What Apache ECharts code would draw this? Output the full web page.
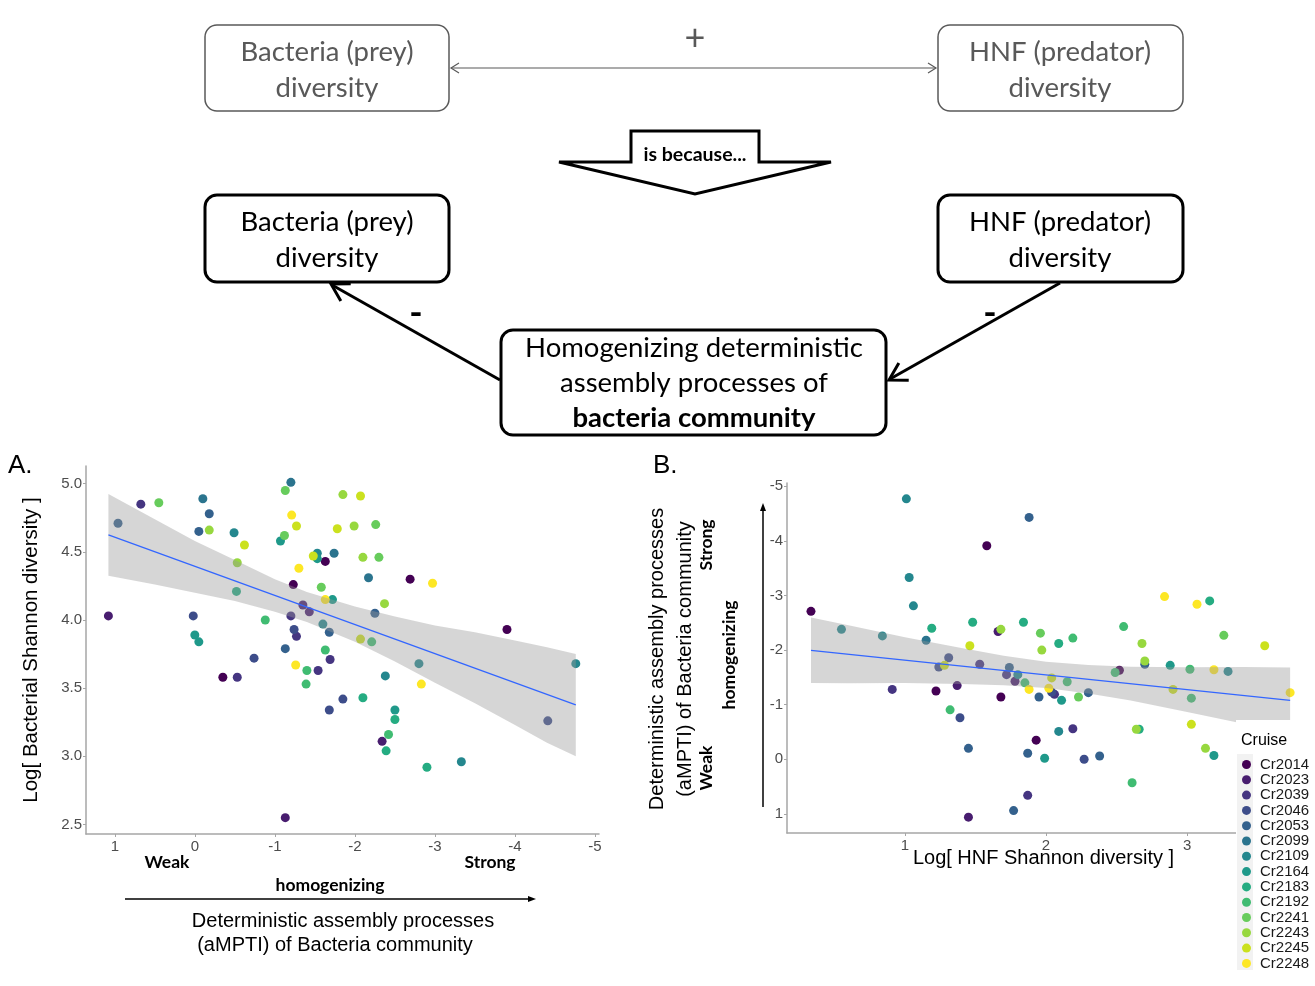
<!DOCTYPE html>
<html><head><meta charset="utf-8">
<script src="https://cdn.jsdelivr.net/npm/echarts@6/dist/echarts.min.js"></script>
<style>html,body{margin:0;padding:0;background:#fff}#c{width:1315px;height:986px}</style>
</head><body><div id="c"></div>
<script>
const cruises = ['Cr2014','Cr2023','Cr2039','Cr2046','Cr2053','Cr2099','Cr2109','Cr2164','Cr2183','Cr2192','Cr2241','Cr2243','Cr2245','Cr2248'];
const cruiseColors = ['#440154','#481D6F','#453581','#3D4D8A','#34618D','#2B748E','#24878E','#1F998A','#25AC82','#40BC72','#67CC5C','#97D83F','#CBE11E','#FDE725'];

// Panel A: x = aMPTI, y = log bacterial Shannon diversity, c = cruise index
const aX = [0.96,0.675,0.45,1.08,-0.10,-0.18,-0.05,-0.18,-0.49,-0.62,-0.53,-0.52,0.02,0.00,-0.05,-0.88,-0.74,-0.35,-0.53,-1.20,
  -1.13,-1.21,-1.27,-1.12,-1.07,-1.30,-1.23,-1.20,-1.35,-1.43,-1.24,-1.27,-1.13,-1.26,-1.40,-1.54,-1.39,-1.48,-1.53,-1.53,
  -1.63,-1.58,-1.63,-1.72,-1.60,-1.68,-1.63,-1.69,-1.85,-2.07,-1.78,-1.99,-2.26,-1.74,-2.10,-2.30,-2.17,-2.69,-2.97,-2.37,
  -2.25,-2.07,-2.21,-2.80,-2.38,-2.83,-2.10,-1.85,-1.68,-2.50,-2.50,-2.42,-2.34,-2.39,-2.90,-3.33,-1.13,-3.90,-4.76,-4.41];
const aY = [4.71,4.85,4.86,4.03,4.89,4.78,4.65,4.66,4.64,4.55,4.42,4.21,4.03,3.89,3.84,4.00,3.72,3.58,3.58,5.01,
  4.95,4.77,4.69,4.62,4.58,4.38,4.26,4.03,4.11,4.06,3.93,3.88,3.79,3.67,3.63,3.63,3.53,4.47,4.49,4.45,
  4.43,4.24,4.15,4.15,3.97,3.91,3.78,3.71,4.92,4.91,4.67,4.69,4.70,4.49,4.46,4.46,4.31,4.30,4.27,4.12,
  4.05,3.86,3.84,3.68,3.59,3.53,3.43,3.42,3.34,3.34,3.27,3.16,3.11,3.04,2.92,2.96,2.55,3.93,3.68,3.26];
const aC = [4,2,10,1,5,4,4,11,6,12,11,8,3,7,7,9,3,0,2,5,
  10,13,12,10,7,13,0,2,1,1,3,2,4,13,9,2,9,12,6,7,
  0,10,13,7,6,4,9,2,11,12,12,11,10,5,11,10,5,0,13,11,
  4,12,9,6,6,13,8,3,3,7,8,9,1,8,8,6,1,0,6,3];

// Panel B: x = log HNF Shannon diversity, y = aMPTI, c = cruise index
const bX = [0.334,0.55,0.84,1.01,1.03,1.06,1.19,1.15,1.46,1.48,1.31,1.24,1.28,1.53,0.91,1.22,1.37,1.32,1.39,1.45,
  1.66,1.68,1.84,1.96,1.97,2.09,2.19,1.74,1.72,1.78,1.80,1.85,1.88,2.02,2.04,1.95,2.04,2.06,2.11,2.15,
  2.23,1.68,1.93,2.09,2.19,1.87,1.99,2.27,2.38,1.87,1.77,1.45,2.61,2.64,2.66,2.90,3.03,3.03,3.13,3.19,
  1.88,1.58,2.84,3.07,3.16,2.55,2.68,2.70,2.70,2.52,2.49,2.88,3.02,3.19,3.29,3.26,3.55,3.73,2.30];
const bY = [-2.71,-2.38,-2.26,-4.77,-3.33,-2.81,-2.40,-2.18,-2.08,-2.51,-1.86,-1.69,-1.72,-1.74,-1.28,-1.25,-1.35,-0.905,-0.76,-0.20,
  -2.34,-2.38,-2.51,-2.31,-2.00,-2.12,-2.22,-1.68,-1.55,-1.43,-1.55,-1.40,-1.28,-1.30,-1.49,-1.14,-1.23,-1.19,-1.08,-1.42,
  -1.14,-1.14,-0.35,-0.51,-0.56,-0.11,-0.02,0.00,-0.06,0.66,0.94,1.06,0.43,-0.55,-0.55,-1.28,-1.12,-0.64,-0.20,-0.07,
  -4.43,-3.91,-2.98,-2.84,-2.90,-2.43,-2.12,-1.80,-1.74,-1.63,-1.59,-1.72,-1.65,-1.64,-1.61,-2.27,-2.08,-1.22,-1.22];
const bC = [0,6,6,6,6,6,8,5,12,8,3,3,12,2,2,0,1,9,3,4,
  1,11,8,10,11,8,9,4,2,1,6,9,13,13,12,4,3,2,7,9,
  10,0,0,6,2,4,7,3,4,2,4,1,9,11,8,12,9,12,11,7,
  4,0,13,13,8,9,11,11,4,0,9,7,9,13,6,10,12,13,4];

// Fitted lines and 95% bands
const aLineX = [1.08,-4.76], aLineY = [4.625,3.377];
const aBandX = [1.08,0.5,0,-0.5,-1,-1.4,-2,-2.5,-3,-3.5,-4,-4.4,-4.76];
const aBandLow = [4.325,4.26,4.20,4.14,4.06,3.985,3.84,3.695,3.54,3.39,3.23,3.10,3.00];
const aBandHigh = [4.925,4.74,4.58,4.44,4.30,4.205,4.10,4.025,3.96,3.91,3.85,3.80,3.75];
const bLineX = [0.334,3.73], bLineY = [-1.995,-1.08];
const bBandX = [0.334,0.6,1.0,1.4,1.7,2.0,2.3,2.6,3.0,3.4,3.73];
const bBandLow = [-2.595,-2.453,-2.236,-2.038,-1.897,-1.786,-1.725,-1.695,-1.687,-1.689,-1.68];
const bBandHigh = [-1.395,-1.393,-1.396,-1.378,-1.357,-1.306,-1.205,-1.075,-0.867,-0.649,-0.48];

const aTicksX = [1,0,-1,-2,-3,-4,-5];
const aTicksY = [2.5,3.0,3.5,4.0,4.5,5.0];
const bTicksX = [1,2,3];
const bTicksY = [-5,-4,-3,-2,-1,0,1];

const chart = echarts.init(document.getElementById('c'), null, {renderer:'canvas'});
const ARIAL = 'Liberation Sans';
const DIAG = 'Lato';
const tickLabel = {fontFamily: ARIAL, fontSize: 15, color: '#4d4d4d'};
const axLine = {show:true, onZero:false, lineStyle:{color:'#a6a6a6', width:1.5}};

function axisX(idx, min, max, ticks, inverse, extra) {
  return Object.assign({type:'value', gridIndex: idx, min, max, inverse: !!inverse,
    axisLine: axLine, splitLine:{show:false},
    axisTick:{show:true, length:3, lineStyle:{color:'#a6a6a6'}, customValues: ticks},
    axisLabel: Object.assign({customValues: ticks, margin:5}, tickLabel)}, extra||{});
}
function axisY(idx, min, max, ticks, inverse, fmt, extra) {
  return Object.assign({type:'value', gridIndex: idx, min, max, inverse: !!inverse,
    axisLine: axLine, splitLine:{show:false},
    axisTick:{show:true, length:3, lineStyle:{color:'#a6a6a6'}, customValues: ticks},
    axisLabel: Object.assign({customValues: ticks, margin:4, formatter: fmt}, tickLabel)}, extra||{});
}

const series = [];
function scatterFor(X, Y, C, gi) {
  cruises.forEach((name, ci) => {
    const d = [];
    for (let i = 0; i < X.length; i++) if (C[i] === ci) d.push([X[i], Y[i]]);
    series.push({type:'scatter', name, xAxisIndex: gi, yAxisIndex: gi, data: d,
      symbolSize: 9, itemStyle:{color: cruiseColors[ci], opacity:1}, z:2, silent:true});
  });
}
scatterFor(aX, aY, aC, 0);
scatterFor(bX, bY, bC, 1);

function bandSeries(BX, LO, HI, gi) {
  return {type:'custom', xAxisIndex: gi, yAxisIndex: gi, z:3, silent:true,
    data: [[BX[0], LO[0]]],
    renderItem: function(params, api) {
      const pts = [];
      for (let i = 0; i < BX.length; i++) pts.push(api.coord([BX[i], HI[i]]));
      for (let i = BX.length - 1; i >= 0; i--) pts.push(api.coord([BX[i], LO[i]]));
      return {type:'polygon', shape:{points: pts}, style:{fill:'rgba(153,153,153,0.4)', stroke:null}};
    }};
}
series.push(bandSeries(aBandX, aBandLow, aBandHigh, 0));
series.push(bandSeries(bBandX, bBandLow, bBandHigh, 1));
series.push({type:'line', xAxisIndex:0, yAxisIndex:0, data: aLineX.map((x,i)=>[x, aLineY[i]]),
  showSymbol:false, lineStyle:{color:'#3366FF', width:1.3}, z:4, silent:true});
series.push({type:'line', xAxisIndex:1, yAxisIndex:1, data: bLineX.map((x,i)=>[x, bLineY[i]]),
  showSymbol:false, lineStyle:{color:'#3366FF', width:1.3}, z:4, silent:true});

// ---------- diagram helpers ----------
function chevron(x1,y1,x2,y2,L,W,stroke,lw){
  const dx=x2-x1, dy=y2-y1, len=Math.hypot(dx,dy), ux=dx/len, uy=dy/len, nx=-uy, ny=ux;
  return {type:'polyline', z:1, shape:{points:[[x2-L*ux+W*nx, y2-L*uy+W*ny],[x2,y2],[x2-L*ux-W*nx, y2-L*uy-W*ny]]},
    style:{stroke, lineWidth:lw, fill:null, lineJoin:'miter', miterLimit:4}};
}
function box(x,y,w,h,stroke,lw){
  return {type:'rect', z:1, shape:{x,y,width:w,height:h,r:12}, style:{fill:'#fff', stroke, lineWidth:lw}};
}
function txt(x,y,text,size,color,weight,family,align,rot,z){
  const o = {type:'text', z: z||2, x, y, style:{text, fontSize:size, fill:color, fontWeight:weight||'normal',
    fontFamily: family||DIAG, textAlign: align||'center', textVerticalAlign:'middle'}};
  if (rot) o.rotation = rot;
  return o;
}
const GRAY = '#595959';
const graphics = [
  box(205,25,244,86,GRAY,1.5), box(938,25,245,86,GRAY,1.5),
  txt(327,52,'Bacteria (prey)',27.5,GRAY), txt(327,88,'diversity',27.5,GRAY),
  txt(1060,52,'HNF (predator)',27.5,GRAY), txt(1060,88,'diversity',27.5,GRAY),
  {type:'line', z:1, shape:{x1:451,y1:68,x2:936,y2:68}, style:{stroke:GRAY, lineWidth:1.2}},
  chevron(700,68,451,68,8,5,GRAY,1.2), chevron(700,68,936,68,8,5,GRAY,1.2),
  txt(695,38,'+',36,GRAY),
  {type:'polygon', z:1, shape:{points:[[631,131],[759,131],[759,162],[831,162],[695,194],[559,162],[631,162]]},
    style:{fill:'#fff', stroke:'#000', lineWidth:3, lineJoin:'miter', miterLimit:2}},
  txt(695,155,'is because...',19.5,'#000','bold'),
  box(205,195,244,87,'#000',3), box(938,195,245,87,'#000',3),
  txt(327,222,'Bacteria (prey)',27.5,'#000'), txt(327,258,'diversity',27.5,'#000'),
  txt(1060,222,'HNF (predator)',27.5,'#000'), txt(1060,258,'diversity',27.5,'#000'),
  box(501,330,385,105,'#000',3),
  txt(694,348,'Homogenizing deterministic',27.5,'#000'),
  txt(694,383,'assembly processes of',27.5,'#000'),
  txt(694,418,'bacteria community',27.5,'#000','bold'),
  {type:'line', z:1, shape:{x1:500,y1:380,x2:332,y2:285}, style:{stroke:'#000', lineWidth:3}},
  chevron(500,380,331,284,17,10,'#000',3),
  {type:'line', z:1, shape:{x1:1060,y1:283,x2:890,y2:379}, style:{stroke:'#000', lineWidth:3}},
  chevron(1060,283,889,380,17,10,'#000',3),
  txt(416,313,'-',36,'#000','bold'), txt(990,313,'-',36,'#000','bold'),
  // panel letters
  txt(8,466,'A.',26,'#000','normal',ARIAL,'left'),
  txt(653,466,'B.',26,'#000','normal',ARIAL,'left'),
  // panel A x annotations
  txt(167,862,'Weak',17.5,'#000','bold'), txt(490,862,'Strong',17.5,'#000','bold'),
  txt(330,885,'homogenizing',17.5,'#000','bold'),
  {type:'line', z:1, shape:{x1:125,y1:899,x2:530,y2:899}, style:{stroke:'#000', lineWidth:1.5}},
  {type:'polygon', z:1, shape:{points:[[536,899],[528,896],[528,902]]}, style:{fill:'#000'}},
  txt(343,921,'Deterministic assembly processes',20,'#000','normal',ARIAL),
  txt(335,945,'(aMPTI) of Bacteria community',20,'#000','normal',ARIAL),
  // panel B y annotations
  txt(657,659,'Deterministic assembly processes',20,'#000','normal',ARIAL,'center',Math.PI/2),
  txt(685,659,'(aMPTI) of Bacteria community',20,'#000','normal',ARIAL,'center',Math.PI/2),
  txt(706,545,'Strong',17.5,'#000','bold',DIAG,'center',Math.PI/2),
  txt(729,655,'homogenizing',17.5,'#000','bold',DIAG,'center',Math.PI/2),
  txt(706,768,'Weak',17.5,'#000','bold',DIAG,'center',Math.PI/2),
  {type:'line', z:1, shape:{x1:763,y1:807,x2:763,y2:509}, style:{stroke:'#000', lineWidth:1.5}},
  {type:'polygon', z:1, shape:{points:[[763,503],[760,511],[766,511]]}, style:{fill:'#000'}},
  // legend background
  {type:'rect', z:10, shape:{x:1236,y:720,width:79,height:262}, style:{fill:'#fff'}},
  {type:'rect', z:11, shape:{x:1237,y:754,width:16,height:216}, style:{fill:'#f2f2f2'}},
  txt(1241,741,'Cruise',16,'#000','normal',ARIAL,'left',0,12),
];

chart.setOption({
  animation:false,
  backgroundColor:'#fff',
  grid:[{left:86, top:466, width:513, height:368}, {left:787, top:483, width:513, height:350}],
  xAxis:[
    axisX(0, -5.05, 1.36, aTicksX, true),
    axisX(1, 0.164, 3.8, bTicksX, false, {name:'Log[ HNF Shannon diversity ]', nameLocation:'middle', nameGap:15,
      nameMoveOverlap:false,
      nameTextStyle:{fontFamily:ARIAL, fontSize:20, color:'#000', verticalAlign:'top'}})
  ],
  yAxis:[
    axisY(0, 2.43, 5.13, aTicksY, false, v => v.toFixed(1), {name:'Log[ Bacterial Shannon diversity ]', nameLocation:'middle',
      nameGap:44, nameRotate:90, nameMoveOverlap:false, nameTextStyle:{fontFamily:ARIAL, fontSize:20.5, color:'#000'}}),
    axisY(1, -5.06, 1.35, bTicksY, true, v => String(v))
  ],
  legend:{show:true, orient:'vertical', left:1237, top:752, itemWidth:17, itemHeight:9, itemGap:0.3, icon:'circle',
    data: cruises, z:20, selectedMode:false,
    textStyle:{fontFamily:ARIAL, fontSize:15, lineHeight:13, color:'#1a1a1a', padding:[0,0,0,0]}},
  graphic: graphics,
  series
});
</script></body></html>
